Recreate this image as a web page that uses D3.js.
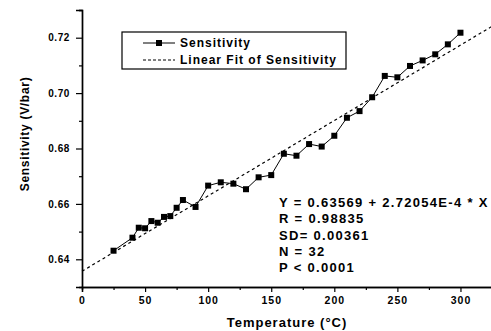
<!DOCTYPE html>
<html><head><meta charset="utf-8">
<script src="https://cdn.jsdelivr.net/npm/d3@7"></script>
<style>
html,body{margin:0;padding:0;background:#fff;}
svg{display:block;font-family:"Liberation Sans",Arial,sans-serif;}
</style></head>
<body>
<script>
const temperature = [25,40,45,50,55,60,65,70,75,80,90,100,110,120,130,140,150,160,170,180,190,200,210,220,230,240,250,260,270,280,290,300];
const sensitivity = [0.6431,0.6478,0.6514,0.6512,0.6538,0.6532,0.6553,0.6556,0.6586,0.6614,0.6589,0.6666,0.6678,0.6673,0.6653,0.6696,0.6704,0.6781,0.6774,0.6816,0.6807,0.6846,0.6911,0.6935,0.6985,0.7062,0.7057,0.7098,0.7118,0.7140,0.7176,0.7218];
const fitIntercept = 0.63569, fitSlope = 2.72054e-4;
const xTicks = [0,50,100,150,200,250,300];
const yTicks = [0.64,0.66,0.68,0.70,0.72];
const statLines = ["Y = 0.63569 + 2.72054E-4 * X","R = 0.98835","SD= 0.00361","N = 32","P < 0.0001"];
const legendLabels = ["Sensitivity","Linear Fit of Sensitivity"];

const W=491,H=331;
const svg=d3.select("body").append("svg").attr("width",W).attr("height",H);
const x=d3.scaleLinear().domain([0,325]).range([82,492]);
const y=d3.scaleLinear().domain([0.63,0.73]).range([287,10]);

// axes
const gx=svg.append("g").attr("transform","translate(0,287)");
gx.call(d3.axisBottom(x).tickValues(d3.range(25,326,50)).tickSize(3).tickFormat(""));
gx.call(g=>g.append("g").call(d3.axisBottom(x).tickValues(xTicks).tickSize(5).tickFormat(d3.format("d"))));
gx.selectAll("path.domain").attr("stroke","#000").attr("stroke-width",1.4);
gx.selectAll("line").attr("stroke","#000").attr("stroke-width",1.2);
gx.selectAll("text").attr("fill","#000").style("font-size","10.5px").style("font-weight","bold").style("letter-spacing","1px").attr("dy","0.9em");

const gy=svg.append("g").attr("transform","translate(82,0)");
gy.call(d3.axisLeft(y).tickValues([0.65,0.67,0.69,0.71,0.73]).tickSize(3).tickFormat(""));
gy.call(g=>g.append("g").call(d3.axisLeft(y).tickValues(yTicks).tickSize(6).tickFormat(d3.format(".2f"))));
gy.selectAll("path.domain").attr("stroke","#000").attr("stroke-width",1.4);
gy.selectAll("line").attr("stroke","#000").attr("stroke-width",1.2);
gy.selectAll("text").attr("fill","#000").style("font-size","10px").style("font-weight","bold").style("letter-spacing","0.6px").attr("x",-12);

// titles
svg.append("text").attr("x",287).attr("y",327).attr("text-anchor","middle")
  .style("font-size","13px").style("font-weight","bold").style("letter-spacing","1px").text("Temperature (°C)");
svg.append("text").attr("transform","translate(29,134) rotate(-90)").attr("text-anchor","middle")
  .style("font-size","12px").style("font-weight","bold").style("letter-spacing","0.7px").text("Sensitivity (V/bar)");

// fit line
svg.append("line").attr("x1",x(0)).attr("y1",y(fitIntercept)).attr("x2",x(325)).attr("y2",y(fitIntercept+fitSlope*325))
  .attr("stroke","#000").attr("stroke-width",1.2).attr("stroke-dasharray","3,3");

// data
const pts=temperature.map((t,i)=>[t,sensitivity[i]]);
svg.append("path").datum(pts).attr("fill","none").attr("stroke","#000").attr("stroke-width",1)
  .attr("d",d3.line().x(d=>x(d[0])).y(d=>y(d[1])));
svg.selectAll("rect.pt").data(pts).join("rect").attr("class","pt")
  .attr("x",d=>x(d[0])-3).attr("y",d=>y(d[1])-3).attr("width",6).attr("height",6).attr("fill","#000");

// legend
const lg=svg.append("g");
lg.append("rect").attr("x",122).attr("y",32).attr("width",224).attr("height",37).attr("fill","#fff").attr("stroke","#000").attr("stroke-width",1.2);
lg.append("line").attr("x1",143).attr("x2",175).attr("y1",43).attr("y2",43).attr("stroke","#000").attr("stroke-width",1);
lg.append("rect").attr("x",156).attr("y",40).attr("width",6).attr("height",6).attr("fill","#000");
lg.append("line").attr("x1",143).attr("x2",175).attr("y1",60).attr("y2",60).attr("stroke","#000").attr("stroke-width",1).attr("stroke-dasharray","3,2");
lg.selectAll("text").data(legendLabels).join("text").attr("x",180).attr("y",(d,i)=>43+i*17).attr("dy","0.36em")
  .style("font-size","12px").style("font-weight","bold").style("letter-spacing","1px").text(d=>d);

// stats
svg.selectAll("text.stat").data(statLines).join("text").attr("class","stat")
  .attr("x",279).attr("y",(d,i)=>202.5+i*16.3).attr("dy","0.36em")
  .style("font-size","13px").style("font-weight","bold").style("letter-spacing","1.3px").text(d=>d);
</script>
</body></html>
